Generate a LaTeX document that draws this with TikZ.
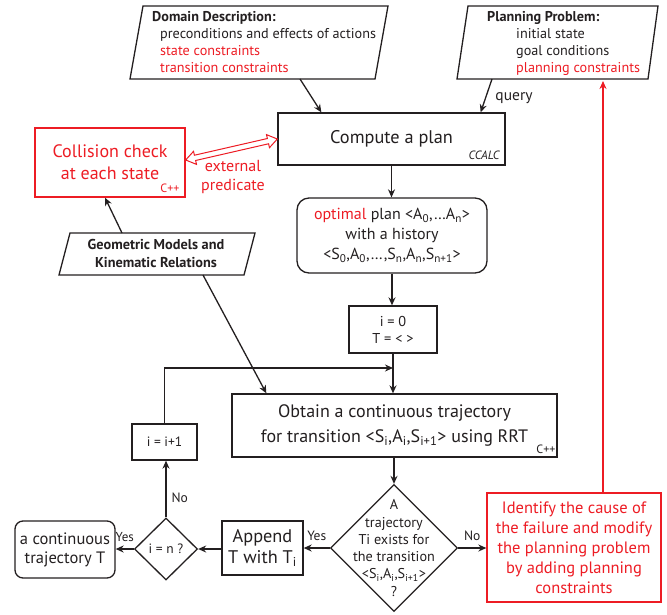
\documentclass[tikz,border=0pt]{standalone}
\usepackage{fontspec}
\setmainfont{PT Sans}
\usetikzlibrary{arrows.meta,shapes.geometric,shapes.arrows,calc}
\definecolor{myred}{RGB}{237,28,36}
\definecolor{ink}{RGB}{35,31,32}
\newcommand{\fs}[2]{\fontsize{#1}{#2}\selectfont}
\newcommand{\sbs}[1]{\textsubscript{#1}}
\begin{document}
\begin{tikzpicture}[x=1pt,y=-1pt,
  outline/.style={draw=ink, line width=1.3pt, line join=miter},
  box/.style={draw=ink, line width=1.3pt, text=ink, align=center, inner sep=0pt},
  rbox/.style={box, draw=myred, text=myred},
  dshape/.style={draw=ink, line width=1.3pt, shape=diamond, inner sep=0pt},
  arr/.style={draw=ink, line width=1.3pt, -{Stealth[length=8pt,width=7pt]}},
  rarr/.style={draw=myred, line width=1.3pt, -{Stealth[length=8pt,width=7pt]}},
  hollow/.style={shape=double arrow, draw=myred, fill=white, line width=1pt,
    inner xsep=0pt, inner ysep=2.2pt, text height=0pt, text depth=0pt,
    double arrow head extend=4pt, double arrow tip angle=70, double arrow head indent=0pt},
  lbl/.style={text=ink, inner sep=0pt, align=center},
  note/.style={text=ink, inner sep=0pt}]

\useasboundingbox (0,0) rectangle (667,614);

% ---- Domain description (parallelogram)
\draw[outline] (143,6) -- (388,6) -- (375,79) -- (130,79) -- cycle;
\node[lbl, anchor=north west, align=left, font=\fs{14.2}{17}] (domtxt) at (152,11.5)
  {\textbf{Domain Description:}\\
   \hspace*{8pt}preconditions and effects of actions\\
   \hspace*{8pt}\textcolor{myred}{state constraints}\\
   \hspace*{8pt}\textcolor{myred}{transition constraints}};
\coordinate (domout) at (300,79);

% ---- Planning problem (parallelogram)
\draw[outline] (468,6) -- (658,6) -- (648,79) -- (457,79) -- cycle;
\node[lbl, anchor=north west, align=left, font=\fs{14.2}{17}] (pptxt) at (487,11.5)
  {\textbf{Planning Problem:}\\
   \hspace*{29pt}initial state\\
   \hspace*{29pt}goal conditions\\
   \hspace*{29pt}\textcolor{myred}{planning constraints}};
\coordinate (ppout) at (492,79);
\coordinate (ppin) at (603,81);

% ---- Compute a plan
\node[box, minimum width=227pt, minimum height=52pt, font=\fs{18.3}{20}] (compute) at (391.5,139) {Compute a plan};
\node[note, anchor=base east, font=\fs{12}{14}\itshape] (ccalc) at ([xshift=-6pt,yshift=6pt]compute.south east) {CCALC};
\node[lbl, font=\fs{15.5}{17}] (query) at (514,98) {query};

% ---- Collision check
\node[rbox, minimum width=150pt, minimum height=69pt, font=\fs{18}{22}] (coll) at (110,162.5) {Collision check\\at each state};
\node[note, text=myred, anchor=base east, font=\fs{12}{14}] (collcpp) at ([xshift=-6pt,yshift=5pt]coll.south east) {C++};
\node[lbl, text=myred, font=\fs{16}{19}] (ext) at (233,176.5) {external\\predicate};

% ---- Geometric models (parallelogram)
\draw[outline] (70,233) -- (255,233) -- (244,275) -- (59,275) -- cycle;
\node[lbl, font=\bfseries\fs{14.3}{17.5}] (geom) at (156,253.5) {Geometric Models and\\Kinematic Relations};
\coordinate (geomtop) at (122,233);
\coordinate (geombot) at (203,275);

% ---- Optimal plan
\node[box, rounded corners=12pt, minimum width=190pt, minimum height=75pt, font=\fs{16}{20}] (plan) at (392,235.5)
  {\textcolor{myred}{optimal} plan <A\sbs{0},…A\sbs{n}>\\
   with a history\\
   <S\sbs{0},A\sbs{0},…,S\sbs{n},A\sbs{n},S\sbs{n+1}>};

% ---- i = 0
\node[box, minimum width=88pt, minimum height=47pt, font=\fs{14.3}{17}] (i0) at (393,329.5) {i = 0\\T = < >};
\coordinate (loopj) at (393,368);

% ---- Obtain trajectory
\node[box, minimum width=325pt, minimum height=63pt, font=\fs{18}{25}] (obtain) at (394.5,425.5)
  {Obtain a continuous trajectory\\for transition <S\sbs{i},A\sbs{i},S\sbs{i+1}> using RRT};
\node[note, anchor=base east, font=\fs{12}{14}] (obcpp) at ([xshift=-2pt,yshift=4pt]obtain.south east) {C++};

% ---- i = i+1
\node[box, minimum width=65pt, minimum height=36pt, font=\fs{13.5}{15}] (inc) at (164.5,442) {i = i+1};

% ---- Decision diamond
\node[dshape, minimum width=127pt, minimum height=127pt] (dia) at (394,548) {};
\node[lbl, font=\fs{14.2}{17.3}] (diatxt) at (394,548)
  {A\\trajectory\\Ti exists for\\the transition\\<S\sbs{i},A\sbs{i},S\sbs{i+1}>\\?};

% ---- Append
\node[box, minimum width=81pt, minimum height=54pt, font=\fs{18.3}{21}] (app) at (262.5,548) {Append\\T with T\sbs{i}};

% ---- i = n ?
\node[dshape, minimum width=63pt, minimum height=62pt] (dn) at (166,549) {};
\node[lbl, font=\fs{13.5}{15}] (dntxt) at (166,549) {i = n ?};

% ---- continuous trajectory
\node[box, rounded corners=8pt, minimum width=100pt, minimum height=57pt, font=\fs{16.5}{19}] (ct) at (65,549.5) {a continuous\\trajectory T};

% ---- Identify (red)
\node[rbox, minimum width=174pt, minimum height=109pt, font=\fs{16.5}{20}] (ident) at (574,547.5)
  {Identify the cause of\\the failure and modify\\the planning problem\\by adding planning\\constraints};

% ---- connectors
\draw[arr] (domout) -- ([xshift=44pt]compute.north west);
\draw[arr] (ppout) -- ([xshift=-25pt]compute.north east);
\draw[arr] (compute.south) -- (compute.south |- plan.north);
\draw[arr] (plan.south) -- (plan.south |- i0.north);
\draw[arr] (i0.south) -- (i0.south |- obtain.north);
\draw[arr] (inc.north) |- (loopj);
\draw[arr] (geombot) -- ([xshift=35pt]obtain.north west);
\draw[arr] (geomtop) -- ([xshift=-5pt]coll.south);
\draw[arr] (obtain.south -| dia.north) -- (dia.north);
\draw[arr] (dia.east) -- (ident.west |- dia.east) node[lbl, midway, above=7pt, font=\fs{13.5}{15}] (no1) {No};
\draw[arr] (dia.west) -- (app.east |- dia.west) node[lbl, midway, above=7pt, font=\fs{13.5}{15}] (yes1) {Yes};
\draw[arr] (app.west |- dn.east) -- (dn.east);
\draw[arr] (dn.west) -- (ct.east |- dn.west) node[lbl, midway, above=7pt, font=\fs{13}{15}] (yes2) {Yes};
\draw[arr] (dn.north) -- (dn.north |- inc.south) node[lbl, pos=0.35, right=5pt, font=\fs{13.5}{15}] (no2) {No};
\draw[rarr] ([xshift=29pt]ident.north) -- (ppin);
% external predicate link (hollow double arrow)
\coordinate (extA) at ([xshift=1pt,yshift=2.5pt]coll.east);
\coordinate (extB) at ([xshift=-1pt]compute.west);
\node[hollow, minimum height=94pt, rotate=12.9] (extlink) at ($(extA)!0.5!(extB)$) {};
\end{tikzpicture}
\end{document}
